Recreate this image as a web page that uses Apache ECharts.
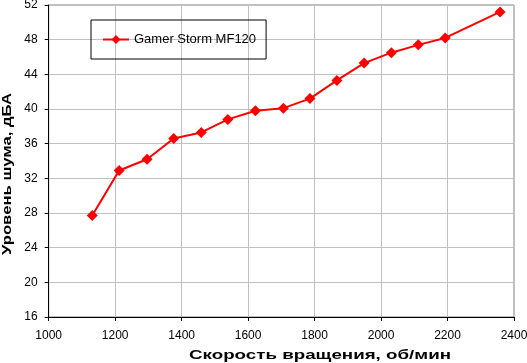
<!DOCTYPE html>
<html><head><meta charset="utf-8">
<script src="https://cdn.jsdelivr.net/npm/echarts@6/dist/echarts.min.js"></script>
<style>html,body{margin:0;padding:0;background:#fff}#c{width:527px;height:363px}</style>
</head><body><div id="c"></div>
<script>
const seriesName = 'Gamer Storm MF120';
const rpm = [1131, 1212, 1296, 1376, 1459, 1539, 1622, 1706, 1786, 1867, 1949, 2031, 2112, 2193, 2358];
const noise = [27.7, 32.9, 34.2, 36.6, 37.3, 38.8, 39.8, 40.1, 41.2, 43.3, 45.3, 46.5, 47.4, 48.2, 51.2];
const xTitle = 'Скорость вращения, об/мин';
const yTitle = 'Уровень шума, дБА';

const font = 'Liberation Sans, Arial, sans-serif';
const titleFont = 'bold 13px Liberation Sans, Arial, sans-serif';
function measure(t) {
  const cv = document.createElement('canvas').getContext('2d');
  cv.font = titleFont;
  return cv.measureText(t).width;
}
const xScale = 262 / measure(xTitle);
const yScale = 162 / measure(yTitle);

const chart = echarts.init(document.getElementById('c'), null, {renderer: 'canvas'});
chart.setOption({
  animation: false,
  backgroundColor: '#fff',
  grid: {left: 48.7, right: 13, top: 5, bottom: 46, show: true, borderColor: '#808080', borderWidth: 1,
         containLabel: false, outerBoundsMode: 'none'},
  legend: {
    left: 91, top: 20,
    data: [seriesName],
    borderColor: '#000', borderWidth: 1,
    padding: [13, 10, 13, 11],
    itemWidth: 26, itemHeight: 11, itemGap: 5,
    textStyle: {fontFamily: font, fontSize: 13, color: '#000'}
  },
  graphic: [
    {type: 'text', x: 320, y: 355.5, scaleX: xScale,
     style: {text: xTitle, font: titleFont, fill: '#000', align: 'center', verticalAlign: 'middle'}},
    {type: 'text', x: 7, y: 174, rotation: Math.PI / 2, scaleX: yScale,
     style: {text: yTitle, font: titleFont, fill: '#000', align: 'center', verticalAlign: 'middle'}}
  ],
  xAxis: {
    type: 'value', min: 1000, max: 2400, interval: 200,
    axisLine: {show: true, lineStyle: {color: '#000', width: 1}},
    axisTick: {show: true, length: 4, inside: false, lineStyle: {color: '#000'}},
    axisLabel: {fontFamily: font, fontSize: 12, color: '#000', margin: 13, formatter: v => String(v)},
    splitLine: {show: true, lineStyle: {color: '#c0c0c0', width: 1}}
  },
  yAxis: {
    type: 'value', min: 16, max: 52, interval: 4,
    axisLine: {show: true, lineStyle: {color: '#000', width: 1}},
    axisTick: {show: true, length: 4, inside: false, lineStyle: {color: '#000'}},
    axisLabel: {fontFamily: font, fontSize: 12, color: '#000', margin: 11},
    splitLine: {show: true, lineStyle: {color: '#c0c0c0', width: 1}}
  },
  series: [{
    name: seriesName,
    type: 'line',
    data: rpm.map((r, i) => [r, noise[i]]),
    symbol: 'diamond', symbolSize: 11,
    lineStyle: {color: '#ff0000', width: 2},
    itemStyle: {color: '#ff0000'}
  }]
});
</script></body></html>
